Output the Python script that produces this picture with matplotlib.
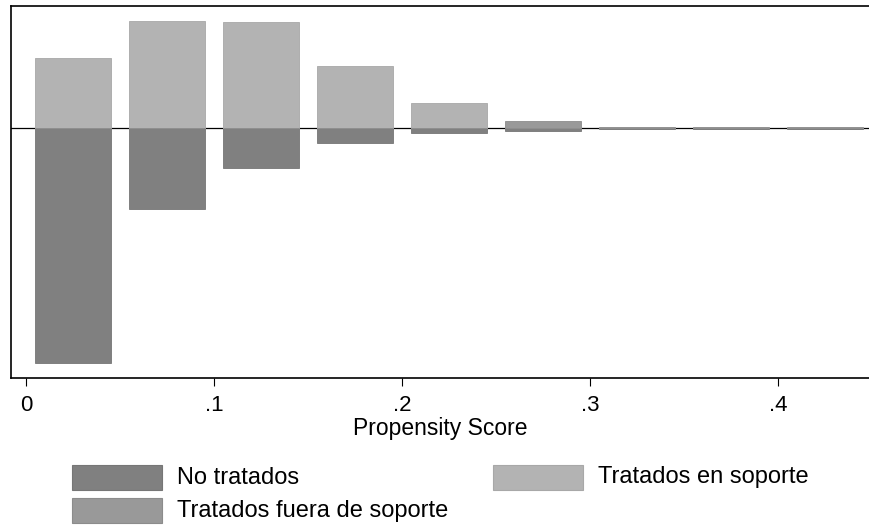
import matplotlib
matplotlib.use("Agg")
import matplotlib.pyplot as plt
from matplotlib.patches import Rectangle

plt.rcParams['font.family'] = ['Liberation Sans', 'DejaVu Sans']

bin_centers = [0.025, 0.075, 0.125, 0.175, 0.225, 0.275, 0.325, 0.375, 0.425]
treated_on = [70, 107, 106, 62, 25, 0, 0, 0, 0]
treated_off = [0, 0, 0, 0, 0, 7.5, 1, 1, 1]
untreated = [235, 81, 40, 15, 5, 2.5, 1, 1, 1]
tick_vals = [0, 0.1, 0.2, 0.3, 0.4]
tick_labels = ['0', '.1', '.2', '.3', '.4']
legend_labels = ['No tratados', 'Tratados en soporte', 'Tratados fuera de soporte']

c_dark = '#808080'
c_light = '#b3b3b3'
c_mid = '#999999'
e_dark = '#767676'
e_light = '#a8a8a8'
e_mid = '#8c8c8c'

W, H = 870, 529
fig = plt.figure(figsize=(W/100, H/100), dpi=100)
ax = fig.add_axes([11/W, 1-378/H, (W-11)/W, (378-6)/H])

w = 0.04
ax.axhline(0, color='black', linewidth=0.9, zorder=1)
ax.bar(bin_centers, [-v for v in untreated], width=w, color=c_dark, edgecolor=e_dark, linewidth=0.6, zorder=2)
ax.bar(bin_centers, treated_on, width=w, color=c_light, edgecolor=e_light, linewidth=0.6, zorder=2)
ax.bar(bin_centers, treated_off, width=w, color=c_mid, edgecolor=e_mid, linewidth=0.6, zorder=2)

ax.set_xlim(-0.00798, 0.4489)
ax.set_ylim(-249.7, 122.3)
ax.set_yticks([])
ax.set_xticks(tick_vals)
ax.set_xticklabels(tick_labels, fontsize=16)
ax.tick_params(axis='x', direction='out', length=6, width=0.8, pad=6)
ax.set_xlabel('Propensity Score', fontsize=16.5, labelpad=1)
ax.spines['right'].set_visible(False)
for s in ax.spines.values():
    s.set_linewidth(1.2)

# legend drawn in figure pixel coordinates
def px(x, y):
    return x / W, 1 - y / H

entries = [
    (legend_labels[0], c_dark, e_dark, 72, 465),
    (legend_labels[1], c_light, e_light, 493, 465),
    (legend_labels[2], c_mid, e_mid, 72, 498),
]
for lab, fc, ec, x0, y0 in entries:
    sw, sh = 90, 25
    fx, fy = px(x0, y0 + sh)
    fig.patches.append(Rectangle((fx, fy), sw / W, sh / H, transform=fig.transFigure,
                                 facecolor=fc, edgecolor=ec, linewidth=0.8))
    tx, ty = px(x0 + sw + 15, y0 + sh / 2)
    fig.text(tx, ty, lab, fontsize=17, va='center', ha='left')

fig.savefig('out.png', dpi=100)
